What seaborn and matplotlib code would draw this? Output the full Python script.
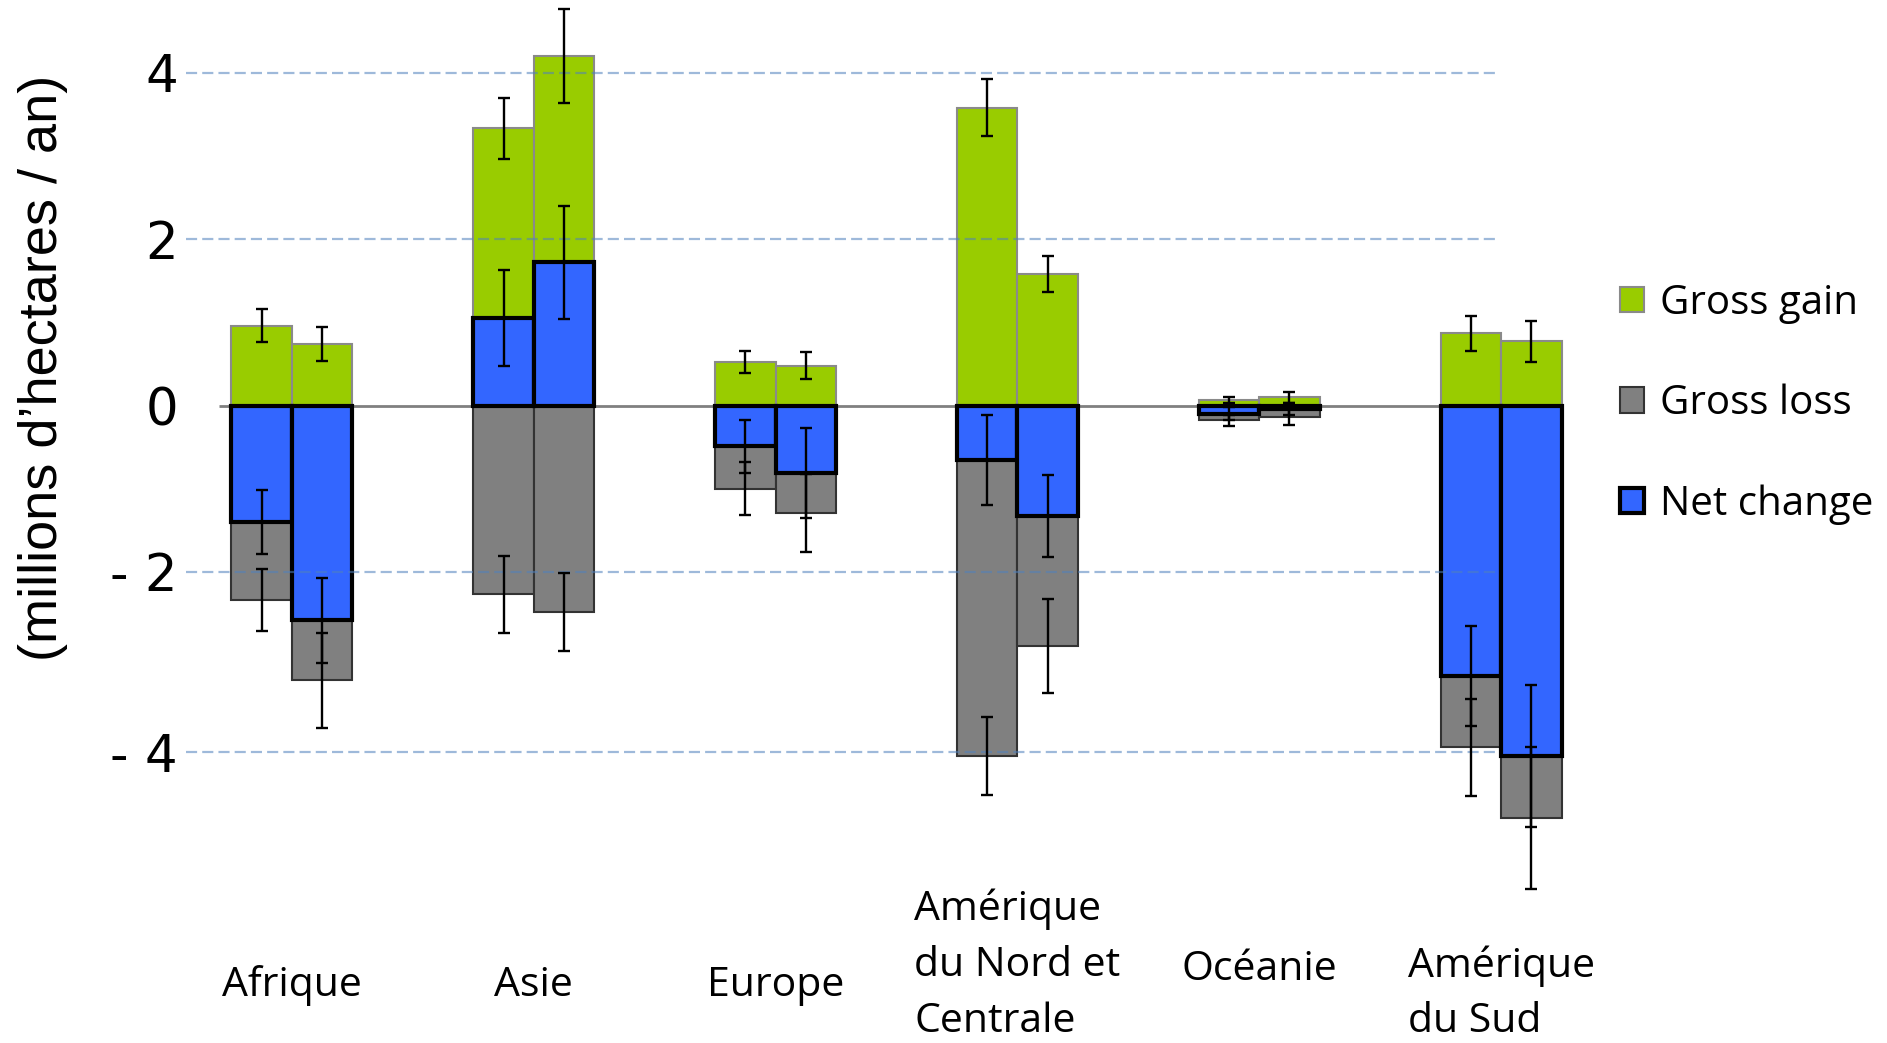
import numpy as np
import pandas as pd
import matplotlib
matplotlib.use("Agg")
import matplotlib.pyplot as plt
from matplotlib.patches import Patch
import seaborn as sns

# ---------------- data ----------------
regions = ["Afrique", "Asie", "Europe", "Amérique\ndu Nord et\nCentrale",
           "Océanie", "Amérique\ndu Sud"]
periods = ["1990-2000", "2000-2005"]

gain_p1 = [0.96, 3.33, 0.52, 3.58, 0.07, 0.87]
gain_p2 = [0.74, 4.20, 0.48, 1.58, 0.10, 0.77]
gain_err_p1 = [0.20, 0.37, 0.13, 0.34, 0.035, 0.21]
gain_err_p2 = [0.20, 0.56, 0.16, 0.22, 0.065, 0.25]

loss_p1 = [-2.34, -2.27, -1.00, -4.21, -0.18, -4.11]
loss_p2 = [-3.30, -2.48, -1.29, -2.89, -0.14, -4.96]
loss_err_p1 = [0.37, 0.46, 0.32, 0.47, 0.07, 0.58]
loss_err_p2 = [0.57, 0.47, 0.47, 0.57, 0.10, 0.85]

net_p1 = [-1.40, 1.05, -0.49, -0.65, -0.10, -3.25]
net_p2 = [-2.58, 1.72, -0.81, -1.33, -0.04, -4.21]
net_err_p1 = [0.38, 0.58, 0.32, 0.54, 0.08, 0.60]
net_err_p2 = [0.51, 0.68, 0.54, 0.49, 0.07, 0.85]

ytick_values = [4, 2, 0, -2, -4.17]
ytick_labels = ["4", "2", "0", "- 2", "- 4"]
legend_labels = ["Gross gain", "Gross loss", "Net change"]
ylabel = "(millions d\u2019hectares / an)"

# ---------------- style ----------------
sns.set_theme(style="white")
plt.rcParams["font.family"] = ["DejaVu Sans"]

GREEN = "#99CC00"
GREY = "#808080"
BLUE = "#3366FF"


def long_df(v1, v2, e1, e2):
    return pd.DataFrame({
        "region": regions * 2,
        "period": [periods[0]] * len(regions) + [periods[1]] * len(regions),
        "value": list(v1) + list(v2),
        "err": list(e1) + list(e2),
    })


layers = [
    (long_df(gain_p1, gain_p2, gain_err_p1, gain_err_p2), GREEN, "#8a8a8a", 1.5),
    (long_df(loss_p1, loss_p2, loss_err_p1, loss_err_p2), GREY, "#333333", 1.5),
    (long_df(net_p1, net_p2, net_err_p1, net_err_p2), BLUE, "black", 3.0),
]

fig = plt.figure(figsize=(18.87, 10.43), dpi=100)
ax = fig.add_axes([171 / 1887, 0.0, (1622 - 171) / 1887, 1.0])

# zero line (behind bars)
ax.hlines(0, -0.30, 5.25, color="#808080", lw=2, zorder=1)

err_jobs = []
for df, fc, ec, lw in layers:
    n_before = len(ax.containers)
    sns.barplot(data=df, x="region", y="value", hue="period", order=regions,
                hue_order=periods, palette=[fc, fc], saturation=1,
                width=0.5, errorbar=None, legend=False, ax=ax,
                edgecolor=ec, linewidth=lw, zorder=2)
    new_conts = ax.containers[n_before:]
    for cont, per in zip(new_conts, periods):
        sub = df[df["period"] == per].set_index("region").loc[regions]
        xs = [p.get_x() + p.get_width() / 2 for p in cont.patches]
        err_jobs.append((xs, sub["value"].values, sub["err"].values))

# dashed gridlines drawn over bars
grid_vals = [v for v in ytick_values if v != 0]
ax.hlines(grid_vals, -0.438, 4.98, colors="#4F81BD", alpha=0.55,
          linestyles=(0, (5, 2.3)), lw=1.6, zorder=3)

for xs, ys, es in err_jobs:
    ax.errorbar(xs, ys, yerr=es, fmt="none", ecolor="black", elinewidth=1.7,
                capsize=4.5, capthick=1.7, zorder=4)

ax.set_xlim(-0.5, 5.5)
ax.set_ylim(-7.662, 4.874)
ax.set_xticks([])
ax.set_xlabel("")
ax.set_ylabel("")
ax.set_yticks(ytick_values)
ax.set_yticklabels(ytick_labels)
ax.tick_params(axis="y", length=0, pad=-5, labelsize=37, labelcolor="black")
for s in ax.spines.values():
    s.set_visible(False)

# category labels
label_y = [-6.975, -6.975, -6.975, -6.73, -6.78, -7.07]
for i, (name, yy) in enumerate(zip(regions, label_y)):
    ax.text(i, yy, name, ha="center", va="center", multialignment="left",
            fontsize=29.5, family=["Open Sans", "DejaVu Sans"],
            linespacing=1.5, color="black")

# y label
fig.text(43 / 1887, 1 - 368 / 1043, ylabel, rotation=90, ha="center",
         va="center", fontsize=39, color="black",
         family=["Liberation Sans", "DejaVu Sans"])

# legend
handles = [Patch(facecolor=GREEN, edgecolor="#8a8a8a", linewidth=1.5),
           Patch(facecolor=GREY, edgecolor="#333333", linewidth=1.5),
           Patch(facecolor=BLUE, edgecolor="black", linewidth=3)]
leg = fig.legend(handles, legend_labels, loc="center left",
                 bbox_to_anchor=(1620 / 1887, 1 - 404 / 1043), frameon=False,
                 prop={"family": ["Open Sans", "DejaVu Sans"], "size": 29},
                 handlelength=0.6, handleheight=0.6, handletextpad=0.4,
                 labelspacing=1.49, borderpad=0, borderaxespad=0)
for t in leg.get_texts():
    t.set_color("black")

fig.savefig("out.png", dpi=100)
